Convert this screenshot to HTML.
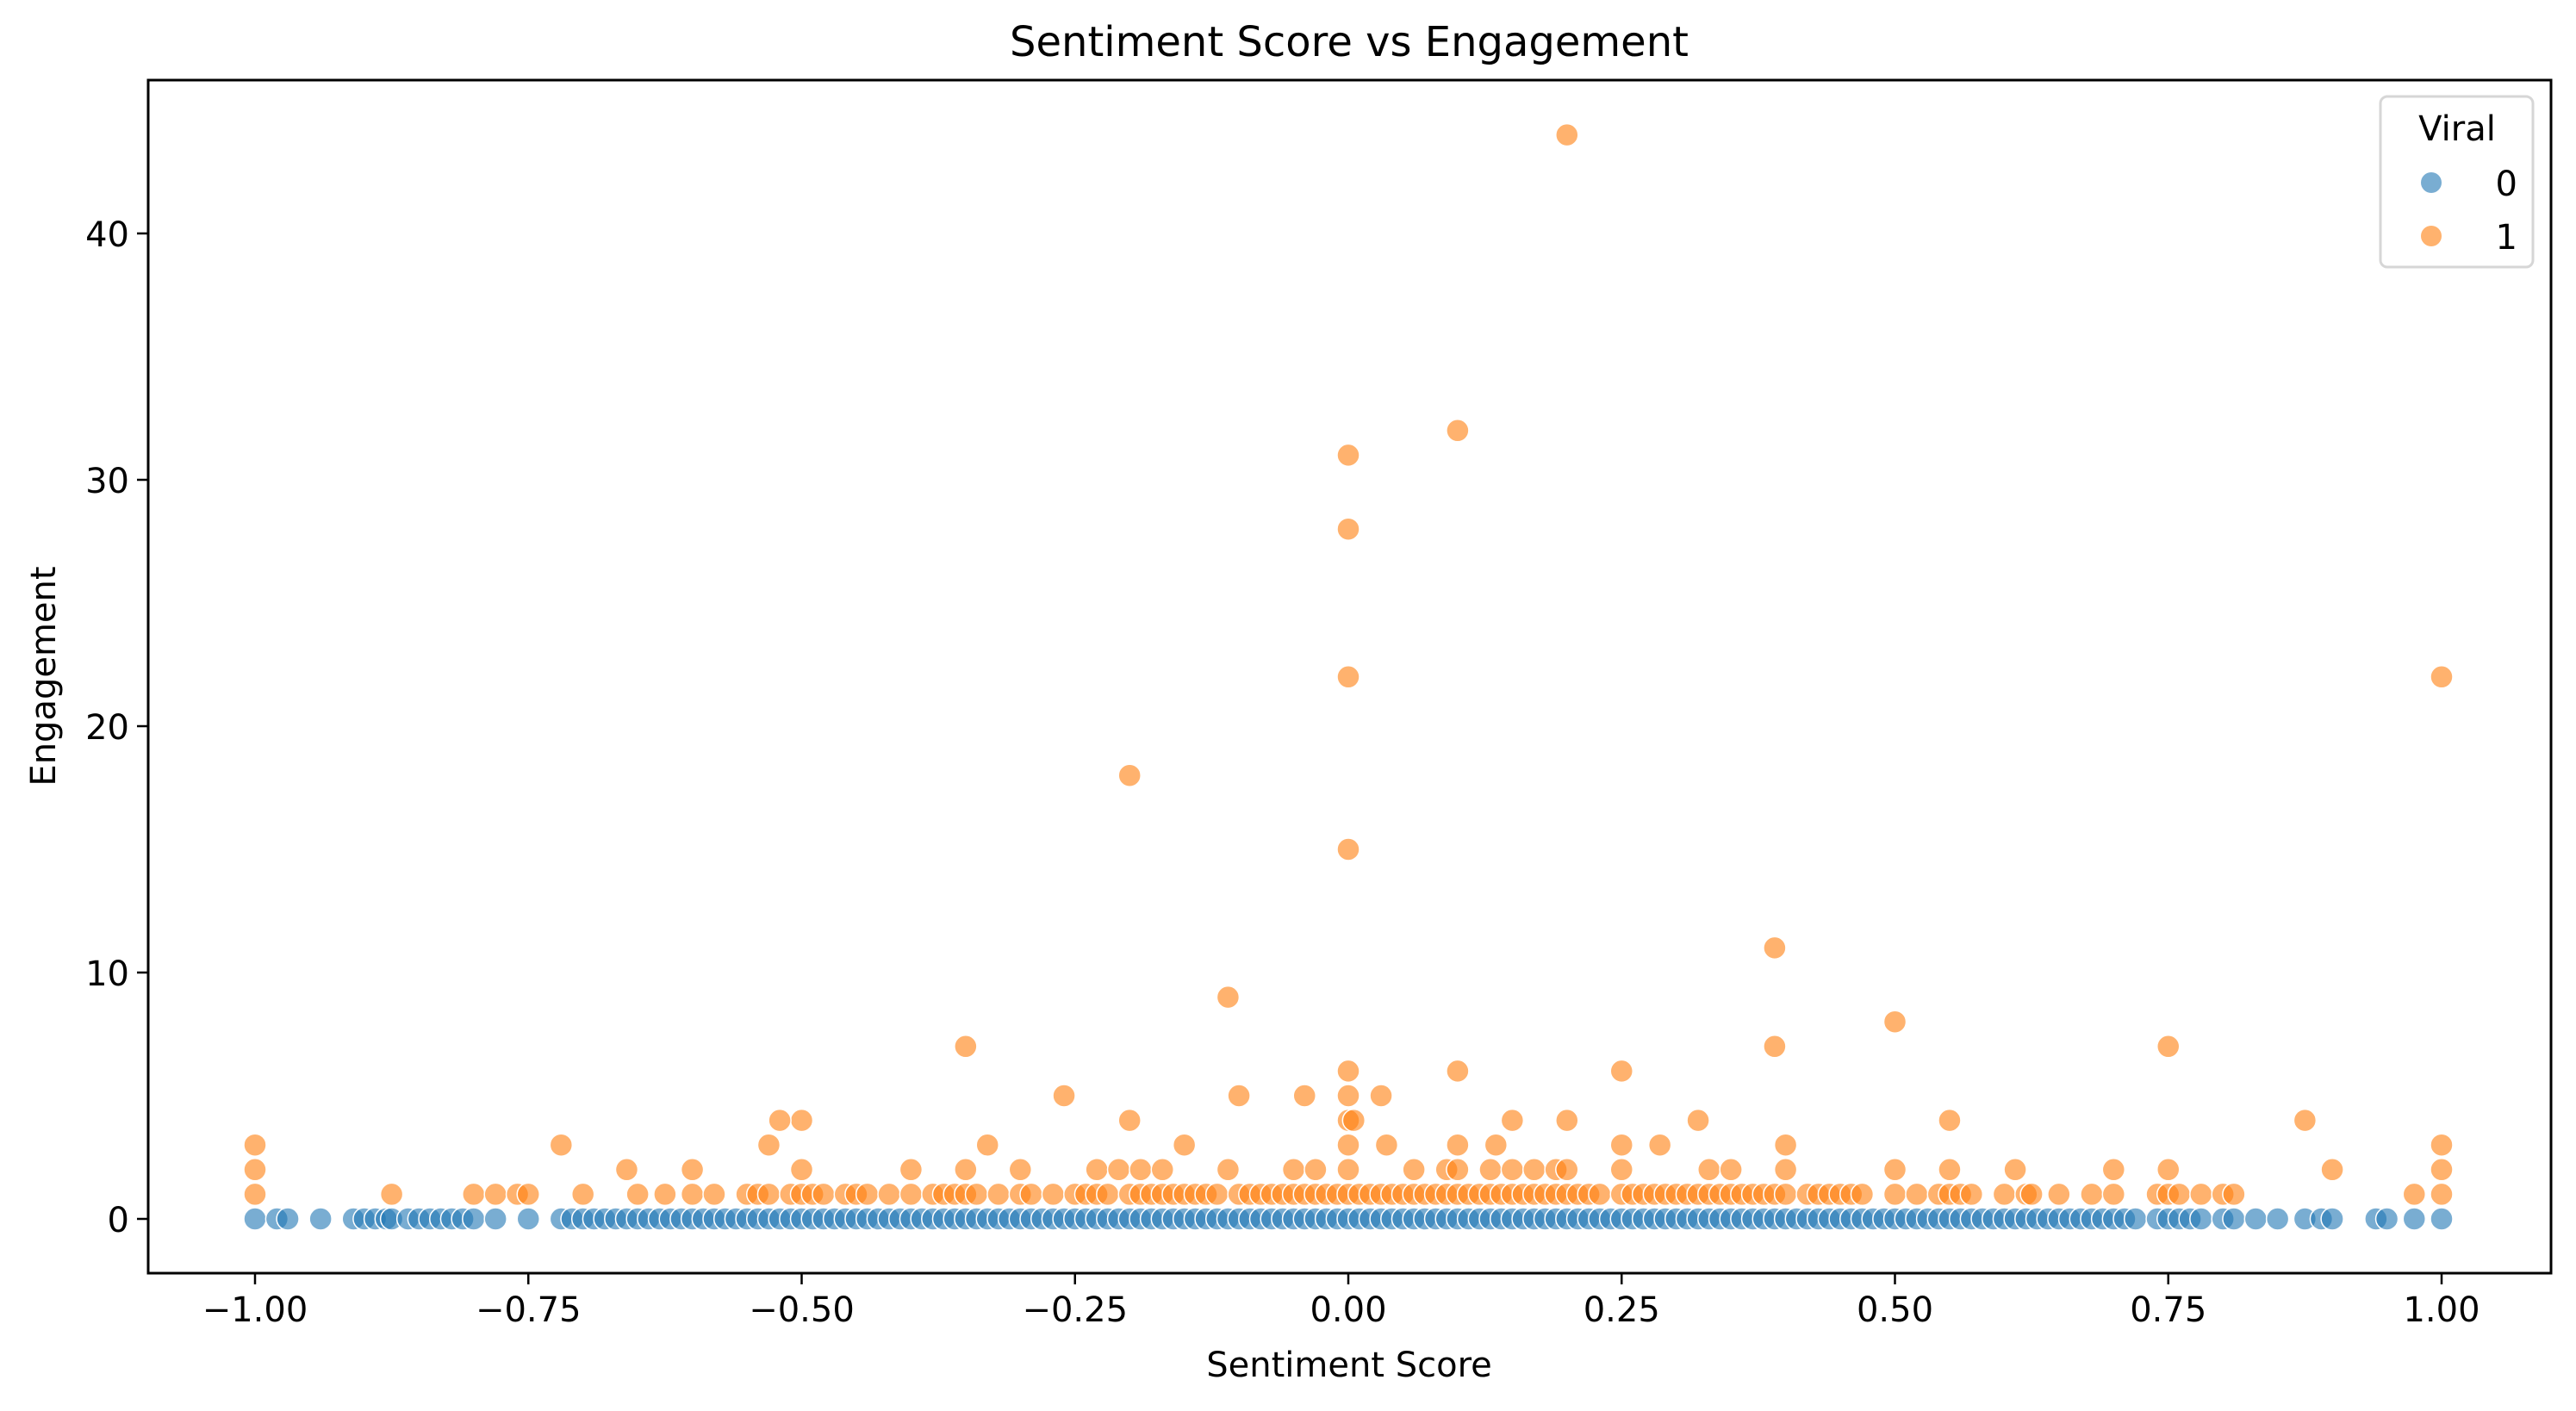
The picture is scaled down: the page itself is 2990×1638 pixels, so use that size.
<!DOCTYPE html>
<html><head><meta charset="utf-8"><style>
html,body{margin:0;padding:0;background:#fff}
svg{display:block;font-family:"DejaVu Sans","Liberation Sans",sans-serif}
</style></head><body>
<svg id="chart" width="2990" height="1638" viewBox="0 0 2990 1638" xmlns="http://www.w3.org/2000/svg">
<rect width="2990" height="1638" fill="#fff"/>
<text x="1566" y="65" font-size="48" text-anchor="middle">Sentiment Score vs Engagement</text>
<text x="1566" y="1598" font-size="40" text-anchor="middle">Sentiment Score</text>
<text x="0" y="0" font-size="40" text-anchor="middle" transform="translate(64,785) rotate(-90)">Engagement</text>
<g id="marks"></g>
<g id="axes"></g>
<g>
<rect x="2763" y="112" width="177" height="198" rx="8" fill="#fff" fill-opacity="0.8" stroke="#d6d6d6" stroke-width="3"/>
<text x="2852" y="163" font-size="40" text-anchor="middle">Viral</text>
<circle cx="2822" cy="212" r="12" fill="#1f77b4" fill-opacity="0.6"/>
<text x="2922" y="227" font-size="40" text-anchor="end">0</text>
<circle cx="2822" cy="274" r="12" fill="#ff7f0e" fill-opacity="0.6"/>
<text x="2922" y="289" font-size="40" text-anchor="end">1</text>
</g>
</svg>
<script>
const xTicks = [-1.0,-0.75,-0.5,-0.25,0,0.25,0.5,0.75,1.0];
const xTickLabels = ["\u22121.00","\u22120.75","\u22120.50","\u22120.25","0.00","0.25","0.50","0.75","1.00"];
const yTicks = [0,10,20,30,40];
const yTickLabels = ["0","10","20","30","40"];
const blueX = [-1,-0.98,-0.97,-0.94,-0.91,-0.9,-0.89,-0.88,-0.875,-0.86,-0.85,-0.84,-0.83,-0.82,-0.81,-0.8,-0.78,-0.75,-0.72,-0.71,-0.7,-0.69,-0.68,-0.67,-0.66,-0.65,-0.64,-0.63,-0.62,-0.61,-0.6,-0.59,-0.58,-0.57,-0.56,-0.55,-0.54,-0.53,-0.52,-0.51,-0.5,-0.49,-0.48,-0.47,-0.46,-0.45,-0.44,-0.43,-0.42,-0.41,-0.4,-0.39,-0.38,-0.37,-0.36,-0.35,-0.34,-0.33,-0.32,-0.31,-0.3,-0.29,-0.28,-0.27,-0.26,-0.25,-0.24,-0.23,-0.22,-0.21,-0.2,-0.19,-0.18,-0.17,-0.16,-0.15,-0.14,-0.13,-0.12,-0.11,-0.1,-0.09,-0.08,-0.07,-0.06,-0.05,-0.04,-0.03,-0.02,-0.01,0,0.01,0.02,0.03,0.04,0.05,0.06,0.07,0.08,0.09,0.1,0.11,0.12,0.13,0.14,0.15,0.16,0.17,0.18,0.19,0.2,0.21,0.22,0.23,0.24,0.25,0.26,0.27,0.28,0.29,0.3,0.31,0.32,0.33,0.34,0.35,0.36,0.37,0.38,0.39,0.4,0.41,0.42,0.43,0.44,0.45,0.46,0.47,0.48,0.49,0.5,0.51,0.52,0.53,0.54,0.55,0.56,0.57,0.58,0.59,0.6,0.61,0.62,0.63,0.64,0.65,0.66,0.67,0.68,0.69,0.7,0.71,0.72,0.74,0.75,0.76,0.77,0.78,0.8,0.81,0.83,0.85,0.875,0.89,0.9,0.94,0.95,0.975,1];
const orangeOneX = [-1,-0.875,-0.8,-0.78,-0.76,-0.75,-0.7,-0.65,-0.625,-0.6,-0.58,-0.55,-0.54,-0.53,-0.51,-0.5,-0.49,-0.48,-0.46,-0.45,-0.44,-0.42,-0.4,-0.38,-0.37,-0.36,-0.35,-0.34,-0.32,-0.3,-0.29,-0.27,-0.25,-0.24,-0.23,-0.22,-0.2,-0.19,-0.18,-0.17,-0.16,-0.15,-0.14,-0.13,-0.12,-0.1,-0.09,-0.08,-0.07,-0.06,-0.05,-0.04,-0.03,-0.02,-0.01,0,0.01,0.02,0.03,0.04,0.05,0.06,0.07,0.08,0.09,0.1,0.11,0.12,0.13,0.14,0.15,0.16,0.17,0.18,0.19,0.2,0.21,0.22,0.23,0.25,0.26,0.27,0.28,0.29,0.3,0.31,0.32,0.33,0.34,0.35,0.36,0.37,0.38,0.39,0.4,0.42,0.43,0.44,0.45,0.46,0.47,0.5,0.52,0.54,0.55,0.56,0.57,0.6,0.62,0.625,0.65,0.68,0.7,0.74,0.75,0.76,0.78,0.8,0.81,0.975,1];
const orangeTwoX = [-1,-0.66,-0.6,-0.5,-0.4,-0.35,-0.3,-0.23,-0.21,-0.19,-0.17,-0.11,-0.05,-0.03,0,0.06,0.09,0.1,0.13,0.15,0.17,0.19,0.2,0.25,0.33,0.35,0.4,0.5,0.55,0.61,0.7,0.75,0.9,1];
const orangeHighX = [0.2,0.1,0,0,0,1,-0.2,0,0.39,-0.11,0.5,-0.35,0.39,0.75,0.1,0.25,0,0,-0.26,-0.1,-0.04,0.03,0,0.005,-0.2,0.2,-0.5,-0.52,0.15,0.32,0.55,0.875,-1,-0.72,-0.53,-0.33,-0.15,0,0.1,0.135,0.25,0.285,0.4,0.035,1];
const orangeHighY = [44,32,31,28,22,22,18,15,11,9,8,7,7,7,6,6,6,5,5,5,5,5,4,4,4,4,4,4,4,4,4,4,3,3,3,3,3,3,3,3,3,3,3,3,3];
const NS='http://www.w3.org/2000/svg';
const L=172,R=2961,T=93,B=1478;
function xs(v){return 296+(v+1)*1269;}
function ys(v){return 1415-v*28.6;}
const marks=document.getElementById('marks');
function dot(x,y,color,name){
  const c=document.createElementNS(NS,'circle');
  c.setAttribute('cx',xs(x));c.setAttribute('cy',ys(y));c.setAttribute('r',13);
  c.setAttribute('fill',color);c.setAttribute('fill-opacity','0.6');
  c.setAttribute('stroke','#fff');c.setAttribute('stroke-width','1.5');
  
  
  marks.appendChild(c);
}
blueX.forEach(x=>dot(x,0,'#1f77b4','point-viral-0'));
orangeOneX.forEach(x=>dot(x,1,'#ff7f0e','point-viral-1'));
orangeTwoX.forEach(x=>dot(x,2,'#ff7f0e','point-viral-1'));
orangeHighX.forEach((x,i)=>dot(x,orangeHighY[i],'#ff7f0e','point-viral-1'));
const axes=document.getElementById('axes');
const frame=document.createElementNS(NS,'rect');
frame.setAttribute('x',L);frame.setAttribute('y',T);frame.setAttribute('width',R-L);frame.setAttribute('height',B-T);
frame.setAttribute('fill','none');frame.setAttribute('stroke','#000');frame.setAttribute('stroke-width','3');


axes.appendChild(frame);
xTicks.forEach((v,i)=>{
  const l=document.createElementNS(NS,'line');
  l.setAttribute('x1',xs(v));l.setAttribute('x2',xs(v));l.setAttribute('y1',B);l.setAttribute('y2',B+13);
  l.setAttribute('stroke','#000');l.setAttribute('stroke-width','2.5');
  
  
  axes.appendChild(l);
  const t=document.createElementNS(NS,'text');
  t.setAttribute('x',xs(v));t.setAttribute('y',B+56);t.setAttribute('font-size','40');t.setAttribute('text-anchor','middle');
  t.textContent=xTickLabels[i];
  
  
  axes.appendChild(t);
});
yTicks.forEach((v,i)=>{
  const l=document.createElementNS(NS,'line');
  l.setAttribute('x1',L-13);l.setAttribute('x2',L);l.setAttribute('y1',ys(v));l.setAttribute('y2',ys(v));
  l.setAttribute('stroke','#000');l.setAttribute('stroke-width','2.5');
  
  
  axes.appendChild(l);
  const t=document.createElementNS(NS,'text');
  t.setAttribute('x',L-22);t.setAttribute('y',ys(v)+15);t.setAttribute('font-size','40');t.setAttribute('text-anchor','end');
  t.textContent=yTickLabels[i];
  
  
  axes.appendChild(t);
});
</script>
</body></html>
